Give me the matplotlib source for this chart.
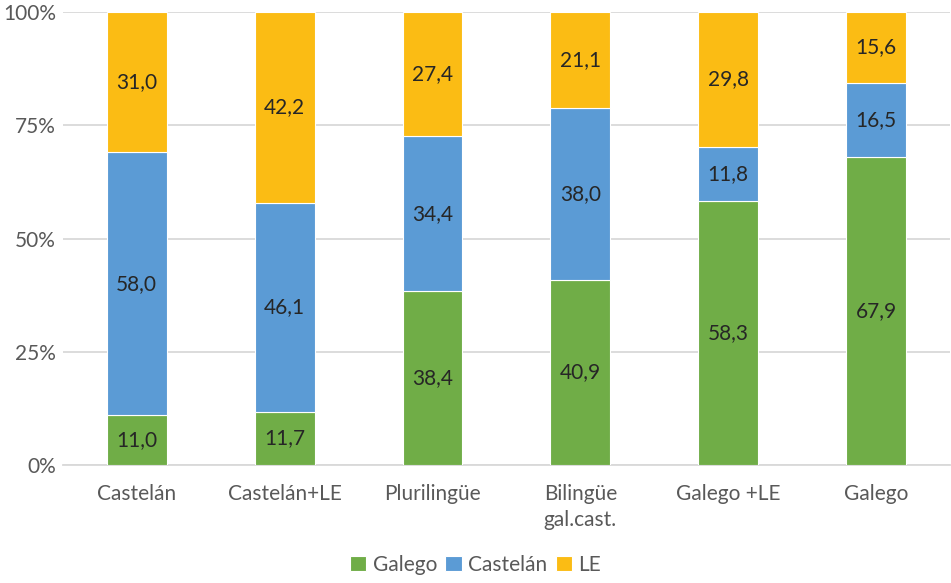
import matplotlib.pyplot as plt
import numpy as np
from matplotlib.ticker import PercentFormatter

categories = ['Castelán', 'Castelán+LE', 'Plurilingüe', 'Bilingüe\ngal.cast.', 'Galego +LE', 'Galego']
galego = [11.0, 11.7, 38.4, 40.9, 58.3, 67.9]
castelan = [58.0, 46.1, 34.4, 38.0, 11.8, 16.5]
le = [31.0, 42.2, 27.4, 21.1, 29.8, 15.6]

series = [('Galego', galego, '#70AD47'),
          ('Castelán', castelan, '#5B9BD5'),
          ('LE', le, '#FBBC14')]

plt.rcParams['font.family'] = ['Lato', 'DejaVu Sans']

fig = plt.figure(figsize=(9.51, 5.83), dpi=100)
ax = fig.add_axes([0.066, 0.2024, 0.933, 0.777])

x = np.arange(len(categories))
totals = np.array(galego) + np.array(castelan) + np.array(le)
bottom = np.zeros(len(categories))
for name, vals, color in series:
    share = np.array(vals) / totals * 100
    ax.bar(x, share, 0.405, bottom=bottom, color=color, edgecolor='white',
           linewidth=0.8, label=name, zorder=3)
    for xi, b, h, v in zip(x, bottom, share, vals):
        ax.text(xi, b + h / 2, f'{v:.1f}'.replace('.', ','), ha='center', va='center',
                fontsize=15, color='#262626', zorder=4)
    bottom += share

ax.set_xlim(-0.5, len(categories) - 0.5)
ax.set_ylim(0, 100)
ax.set_yticks([0, 25, 50, 75, 100])
ax.yaxis.set_major_formatter(PercentFormatter(decimals=0))
ax.grid(axis='y', color='#D9D9D9', linewidth=1.3, zorder=0)
ax.set_xticks(x)
ax.set_xticklabels(categories, linespacing=1.35)
ax.tick_params(axis='both', length=0, labelsize=15, colors='#595959')
ax.tick_params(axis='x', pad=14)
ax.tick_params(axis='y', pad=5)
for s in ['top', 'right', 'left']:
    ax.spines[s].set_visible(False)
ax.spines['bottom'].set_color('#D9D9D9')
ax.spines['bottom'].set_linewidth(1.3)

leg = fig.legend(loc='lower center', bbox_to_anchor=(0.5, -0.018), ncol=3, frameon=False,
                 fontsize=15, handlelength=0.8, handleheight=0.8, handletextpad=0.3,
                 columnspacing=0.4)
for t in leg.get_texts():
    t.set_color('#595959')

fig.savefig('out.png', dpi=100)
